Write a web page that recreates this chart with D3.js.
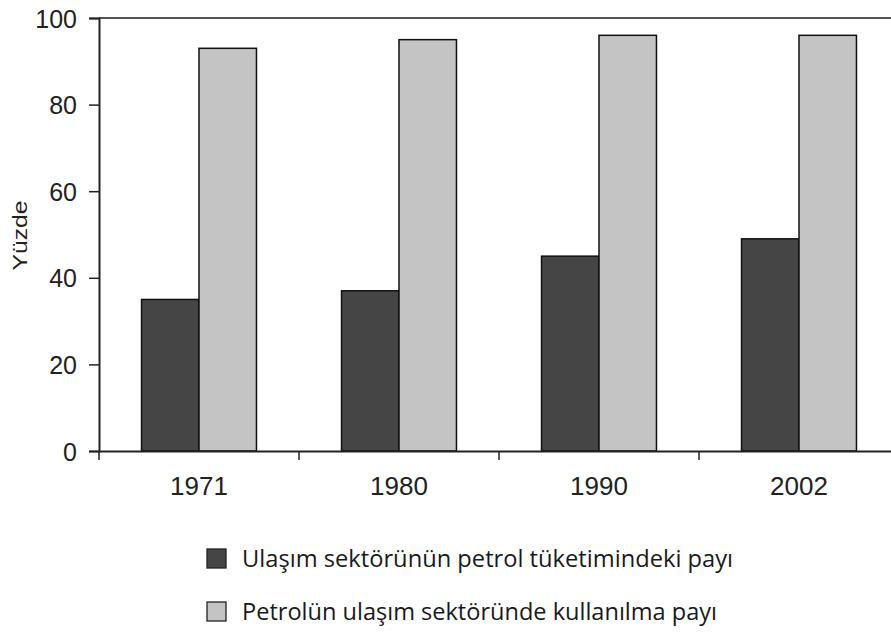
<!DOCTYPE html>
<html lang="tr">
<head>
<meta charset="UTF-8">
<title>Petrol</title>
<script src="https://cdn.jsdelivr.net/npm/d3@7"></script>
<style>
body{margin:0;background:#fff}
svg text{font-family:"Liberation Sans",Arial,sans-serif;fill:#222}
.legend text{font-family:"Open Sans",sans-serif;fill:#1a1a1a}
</style>
</head>
<body>
<svg id="chart" width="891" height="633"></svg>
<script>
// data
var years=['1971','1980','1990','2002']
var seriesNames=['Ulaşım sektörünün petrol tüketimindeki payı','Petrolün ulaşım sektöründe kullanılma payı']
var ulasimPay=[35,37,45,49]
var petrolPay=[93,95,96,96]
var yTicks=[0,20,40,60,80,100]

var colores=['#454545','#c4c4c4']
var svg=d3.select('#chart')
var mLeft=99, mTop=18, mBottom=451

var x=d3.scaleBand().domain(years).range([mLeft,mLeft+800])
var x1=d3.scaleBand().domain([0,1]).range([0,x.bandwidth()]).paddingOuter(0.74)
var y=d3.scaleLinear().domain([0,100]).range([mBottom,mTop])

var datos=years.map(function(d,i){return {year:d,vals:[ulasimPay[i],petrolPay[i]]}})

// barras
var g=svg.selectAll('g.grp').data(datos).enter().append('g')
	.attr('class','grp')
	.attr('transform',function(d){return 'translate('+x(d.year)+',0)'})
g.selectAll('rect').data(function(d){return d.vals}).enter().append('rect')
	.attr('x',function(d,i){return x1(i)})
	.attr('width',x1.bandwidth())
	.attr('y',function(d){return y(d)})
	.attr('height',function(d){return mBottom-y(d)})
	.attr('fill',function(d,i){return colores[i]})
	.attr('stroke','#111')
	.attr('stroke-width',1.5)

// linea superior
svg.append('line')
	.attr('x1',mLeft).attr('x2',891)
	.attr('y1',y(100)).attr('y2',y(100))
	.attr('stroke','#555').attr('stroke-width',2)

// eje y
var yAxis=svg.append('g')
	.attr('transform','translate('+mLeft+',0)')
	.call(d3.axisLeft(y).tickValues(yTicks).tickSize(10).tickPadding(12))
yAxis.select('.domain').attr('stroke','#222').attr('stroke-width',2)
yAxis.selectAll('.tick line').attr('stroke','#222').attr('stroke-width',1.5)
yAxis.selectAll('text').style('font-size','25px').attr('fill','#222').attr('dy','0.36em')

// eje x
var xAxis=svg.append('g')
	.attr('transform','translate(0,'+mBottom+')')
	.call(d3.axisBottom(x).tickSize(0).tickPadding(26).tickSizeOuter(0))
xAxis.select('.domain').attr('stroke','#222').attr('stroke-width',2)
xAxis.selectAll('text').style('font-size','26px').attr('fill','#222')
svg.selectAll('line.sep').data(years).enter().append('line')
	.attr('class','sep')
	.attr('x1',function(d){return x(d)}).attr('x2',function(d){return x(d)})
	.attr('y1',mBottom).attr('y2',mBottom+9)
	.attr('stroke','#222').attr('stroke-width',1.5)

// titulo y
svg.append('text')
	.attr('transform','translate(27,'+(y(50)+1)+') rotate(-90)')
	.attr('text-anchor','middle')
	.style('font-size','20px')
	.attr('textLength',70)
	.attr('lengthAdjust','spacingAndGlyphs')
	.text('Yüzde')

// leyenda
var legW=[491,475]
var leg=svg.append('g').attr('class','legend')
var legItems=leg.selectAll('g').data(seriesNames).enter().append('g')
	.attr('transform',function(d,i){return 'translate(207,'+(549+i*53)+')'})
legItems.append('rect')
	.attr('width',19).attr('height',19)
	.attr('fill',function(d,i){return colores[i]})
	.attr('stroke','#222').attr('stroke-width',1.3)
legItems.append('text')
	.attr('x',35).attr('y',18)
	.style('font-size','24px')
	.attr('textLength',function(d,i){return legW[i]})
	.attr('lengthAdjust','spacingAndGlyphs')
	.text(function(d){return d})
</script>
</body>
</html>
